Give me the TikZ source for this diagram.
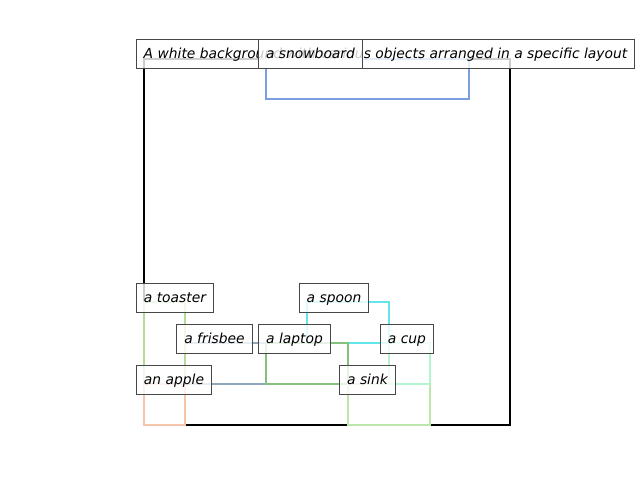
\documentclass[tikz,border=0pt]{standalone}
\usepackage{fontspec}
\setmainfont{DejaVu Sans}
\begin{document}
\begin{tikzpicture}[x=0.01in,y=-0.01in,
  bbox/.style={line width=0.028in},
  lbl/.style={draw=black!72, line width=0.01in, fill=white, fill opacity=0.8, text opacity=1,
    text height=0.185in, text depth=0.095in, inner xsep=0pt, inner ysep=0pt,
    font=\itshape\fontsize{10}{12}\selectfont}]
\useasboundingbox (0,0) rectangle (640,480);
\definecolor{csnow}{HTML}{7B9EE0}
\definecolor{ctoast}{HTML}{B3DC98}
\definecolor{capple}{HTML}{F4C4AB}
\definecolor{cfris}{HTML}{8FA8BB}
\definecolor{clap}{HTML}{85C17E}
\definecolor{cspoon}{HTML}{63E6EA}
\definecolor{ccup}{HTML}{B4F5D0}
\definecolor{csink}{HTML}{BCE6AC}
% image border
\draw[bbox, black] (144,59) rectangle (510,425);
% object boxes
\draw[bbox, csnow] (266,59) rectangle (469,99);
\draw[bbox, cfris] (185,343) rectangle (266,384);
\draw[bbox, cspoon] (307,302) rectangle (389,343);
\draw[bbox, clap] (266,343) rectangle (348,384);
\draw[bbox, csink] (348,384) rectangle (430,425);
\draw[bbox, ccup] (389,343) rectangle (430,384);
\draw[bbox, ctoast] (144,302) rectangle (185,384);
\draw[bbox, capple] (144,384) rectangle (185,425);
% labels
\node[lbl, minimum width=4.97in] (caption) at (385.5,54) {A white background with various objects arranged in a specific layout};
\node[lbl, minimum width=1.03in] (snowboard) at (310.5,54) {a snowboard};
\node[lbl, minimum width=0.76in] (toaster) at (175,298) {a toaster};
\node[lbl, minimum width=0.68in] (spoon) at (334,298) {a spoon};
\node[lbl, minimum width=0.75in] (frisbee) at (214.5,339) {a frisbee};
\node[lbl, minimum width=0.71in] (laptop) at (294.5,339) {a laptop};
\node[lbl, minimum width=0.52in] (cup) at (407,339) {a cup};
\node[lbl, minimum width=0.74in] (apple) at (174,380) {an apple};
\node[lbl, minimum width=0.55in] (sink) at (367.5,380) {a sink};
\end{tikzpicture}
\end{document}
